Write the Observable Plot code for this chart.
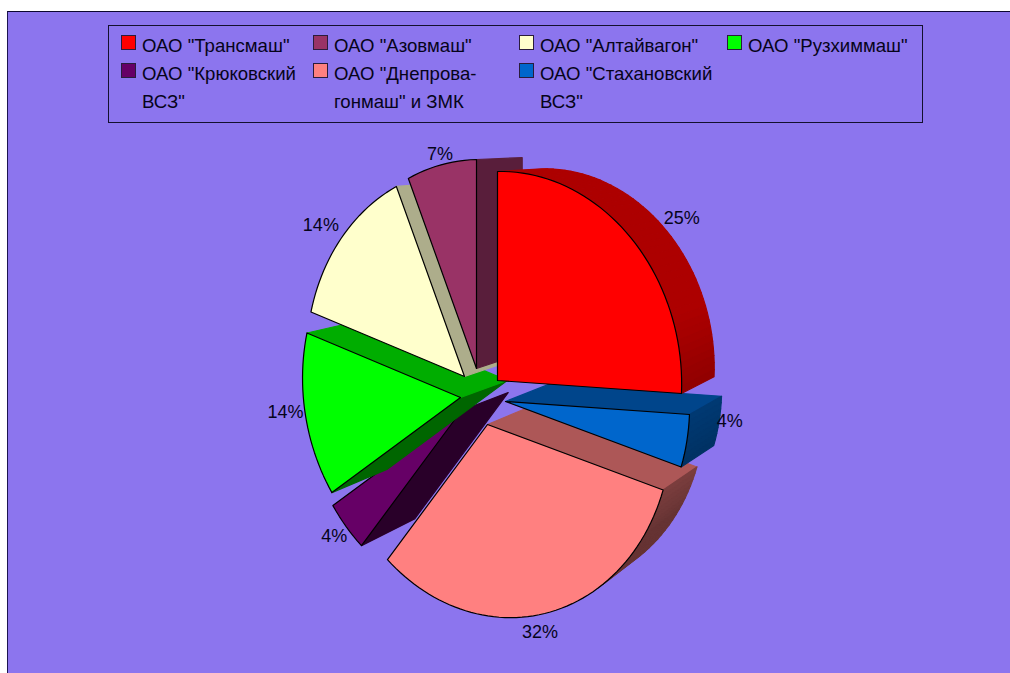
<!DOCTYPE html>
<html lang="ru">
<head>
<meta charset="utf-8">
<script src="https://cdn.jsdelivr.net/npm/d3@7"></script>
<script src="https://cdn.jsdelivr.net/npm/@observablehq/plot@0.6"></script>
<style>
  html, body { margin: 0; padding: 0; background: #fff; overflow: hidden; }
  #page { position: relative; width: 1010px; height: 673px; overflow: hidden; font-family: "Liberation Sans", Arial, sans-serif; }
  #panel { position: absolute; left: 7px; top: 11px; width: 1100px; height: 800px; background: #8c75ee; border-left: 1.5px solid #1c1450; border-top: 1.5px solid #0c0830; }
  #chart { position: absolute; left: 0; top: 0; }
  #chart svg { background: transparent; }
  #legend { position: absolute; left: 108px; top: 25px; width: 813px; height: 96px; border: 1px solid #14102e; box-sizing: content-box; }
  .item { position: absolute; font-size: 18.6px; line-height: 28px; color: #06041a; white-space: pre; }
  .sw { position: absolute; left: -21px; top: 3px; width: 13px; height: 13px; border: 1px solid #2a1c3c; }
</style>
</head>
<body>
<div id="page">
  <div id="panel"></div>
  <div id="chart"></div>
  <div id="legend"></div>
</div>
<script>
// Data
const names = ['ОАО "Трансмаш"', 'ОАО "Азовмаш"', 'ОАО "Алтайвагон"', 'ОАО "Рузхиммаш"',
               'ОАО "Крюковский\nВСЗ"', 'ОАО "Днепрова-\nгонмаш" и ЗМК', 'ОАО "Стахановский\nВСЗ"'];
const shares = [25, 6.5, 13.9, 14.2, 4.4, 32, 4];
const colors = ["#ff0000", "#993366", "#ffffcc", "#00ff00", "#660066", "#ff8080", "#0066cc"];

// Layout: clockwise order on the pie and painter's order (indices into the lists above)
const clockwise = [0, 6, 5, 4, 3, 2, 1];
const paintOrder = [4, 5, 6, 3, 2, 1, 0];
// Where each exploded slice's tip sits relative to the pie centre
const pieCentre = [480, 390];
const explode = [[17, -10], [-4, -22], [-16, -14], [-20, 7], [-19, 20], [7, 34], [25, 11]];
const labelNudge = [[53, -17], [-1, -11], [-20, -14], [-20, -3], [-12, 10], [1, 17], [43, -20]];

// Perspective used by the 3-D pie: unit circle -> pixels, with depth running to a vanishing point
const A = 169.9, C = 12, D = -199.8, G = -0.0765, H = -0.044;
const vanish = [1190, 130], depth = 0.064;
const project = (ang, r = 1) => {
  const X = r * Math.sin(ang), Y = r * Math.cos(ang), w = 1 + G * X + H * Y;
  return [A * X / w, (C * X + D * Y) / w];
};
const back = ([x, y]) => [x + depth * (vanish[0] - x), y + depth * (vanish[1] - y)];
const shade = (hex, f) => { const c = d3.rgb(hex); return d3.rgb(c.r * f, c.g * f, c.b * f).formatHex(); };

const arcs = d3.pie().sort(null).value(i => shares[i])(clockwise);
const arcOf = new Map(arcs.map(a => [a.data, a]));

const points = [];
let fid = 0;
const addFace = (pts, fill, stroke) => {
  const id = fid++;
  pts.forEach(([x, y]) => points.push({x, y, id, fill, stroke}));
};
for (const i of paintOrder) {
  const a = arcOf.get(i);
  const apex = [pieCentre[0] + explode[i][0], pieCentre[1] + explode[i][1]];
  const n = Math.max(4, Math.ceil((a.endAngle - a.startAngle) / (Math.PI / 90)));
  const rim = d3.range(n + 1).map(k => {
    const [x, y] = project(a.startAngle + (a.endAngle - a.startAngle) * k / n);
    return [apex[0] + x, apex[1] + y];
  });
  const outline = [apex, ...rim];
  const edges = [[apex, rim[0]], ...d3.pairs(rim), [rim[n], apex]];
  for (const [p, q] of edges) {
    const bp = back(p), bq = back(q);
    const ox = (bp[0] + bq[0]) / 2 - (p[0] + q[0]) / 2, oy = (bp[1] + bq[1]) / 2 - (p[1] + q[1]) / 2;
    const dx = q[0] - p[0], dy = q[1] - p[1], len = Math.hypot(dx, dy);
    if (ox * dy - oy * dx <= 0) continue;          // this side faces away from the viewer
    const ny = -dx / len;
    const f = Math.min(0.68, Math.max(0.40, 0.58 - 0.35 * ny));
    const c = shade(colors[i], f);
    addFace([p, q, bq, bp], c, c);
  }
  addFace(outline, colors[i], "#000000");
}

const labels = arcs.map(a => {
  const i = a.data;
  const [x, y] = project((a.startAngle + a.endAngle) / 2);
  return {
    x: pieCentre[0] + explode[i][0] + x + labelNudge[i][0],
    y: pieCentre[1] + explode[i][1] + y + labelNudge[i][1],
    text: Math.round(shares[i]) + "%"
  };
});

const plot = Plot.plot({
  width: 1010, height: 673, margin: 0,
  x: {domain: [0, 1010], range: [0, 1010], axis: null},
  y: {domain: [0, 673], range: [0, 673], axis: null},
  color: {type: "identity"},
  style: {background: "transparent"},
  marks: [
    Plot.line(points, {x: "x", y: "y", z: "id", fill: "fill", stroke: "stroke", strokeWidth: 1.2, curve: "linear-closed"}),
    Plot.text(labels, {x: "x", y: "y", text: "text", fontSize: 18, fontFamily: '"Liberation Sans", Arial, sans-serif', fill: "#06041a", textAnchor: "middle"})
  ]
});
document.getElementById("chart").append(plot);

// Legend, four columns by two rows, read across
const legendCols = [33, 225, 431, 639], legendRows = [6, 34];
const legend = document.getElementById("legend");
names.forEach((name, i) => {
  const d = document.createElement("div");
  d.className = "item";
  d.style.left = legendCols[i % 4] + "px";
  d.style.top = legendRows[Math.floor(i / 4)] + "px";
  d.textContent = name;
  const s = document.createElement("span");
  s.className = "sw";
  s.style.background = colors[i];
  d.prepend(s);
  legend.append(d);
});
</script>
</body>
</html>
